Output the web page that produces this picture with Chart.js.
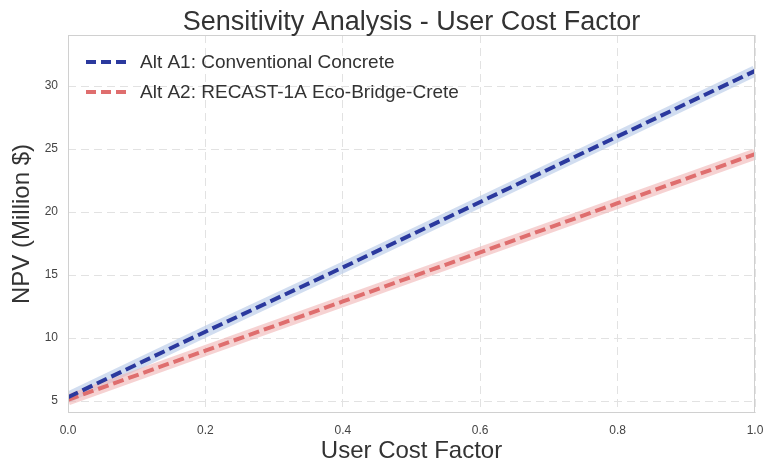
<!DOCTYPE html>
<html>
<head>
<meta charset="utf-8">
<script src="https://cdn.jsdelivr.net/npm/chart.js@4.4.1/dist/chart.umd.min.js"></script>
<style>
  html, body { margin: 0; padding: 0; background: #fff; }
  #wrap { width: 764px; height: 466px; }
</style>
</head>
<body>
<div id="wrap"><canvas id="c" width="764" height="466"></canvas></div>
<script>
// values
const userCostFactor = [0, 0.2, 0.4, 0.6, 0.8, 1.0];
const npvA1 = [5.3, 10.5, 15.6, 20.8, 26.0, 31.2];
const npvA2 = [5.1, 9.0, 12.9, 16.8, 20.7, 24.6];
const labelA1 = 'Alt A1: Conventional Concrete';
const labelA2 = 'Alt A2: RECAST-1A Eco-Bridge-Crete';
const xTicks = [0, 0.2, 0.4, 0.6, 0.8, 1.0];
const yTicks = [5, 10, 15, 20, 25, 30];
const titleText = 'Sensitivity Analysis - User Cost Factor';

const blue = '#2b399e';
const red = '#df6e6e';
const blueBand = 'rgba(185,203,232,0.65)';
const redBand = 'rgba(240,180,180,0.6)';
const gridColor = '#e2e2e2';
const font = "'Liberation Sans', Arial, sans-serif";

const pts = arr => arr.map((v, i) => ({ x: userCostFactor[i], y: v }));

// matplotlib-like frame, centred title and in-axes legend
const frameTitle = {
  id: 'frameTitle',
  afterDraw(chart) {
    const { ctx, chartArea: a } = chart;
    ctx.save();
    ctx.strokeStyle = '#d0d0d0';
    ctx.lineWidth = 1;
    ctx.strokeRect(a.left + 0.5, a.top + 0.5, a.right - a.left - 1, a.bottom - a.top - 1);

    ctx.fillStyle = '#333';
    ctx.font = '27px ' + font;
    ctx.textAlign = 'center';
    ctx.textBaseline = 'alphabetic';
    ctx.fillText(titleText, (a.left + a.right) / 2, 30);

    const items = [[labelA1, blue], [labelA2, red]];
    ctx.font = '19px ' + font;
    ctx.textAlign = 'left';
    ctx.textBaseline = 'middle';
    items.forEach(([text, color], i) => {
      const y = a.top + 27 + i * 30;
      ctx.strokeStyle = color;
      ctx.lineWidth = 4;
      ctx.setLineDash([10, 5]);
      ctx.beginPath();
      ctx.moveTo(a.left + 18, y);
      ctx.lineTo(a.left + 58, y);
      ctx.stroke();
      ctx.setLineDash([]);
      ctx.fillStyle = '#333';
      ctx.fillText(text, a.left + 72, y + 1);
    });
    ctx.restore();
  }
};

new Chart(document.getElementById('c'), {
  type: 'line',
  data: {
    datasets: [
      { label: 'bandA1', data: pts(npvA1), borderColor: blueBand, borderWidth: 11, pointRadius: 0, tension: 0, order: 3 },
      { label: 'bandA2', data: pts(npvA2), borderColor: redBand, borderWidth: 11, pointRadius: 0, tension: 0, order: 2 },
      { label: labelA1, data: pts(npvA1), borderColor: blue, borderWidth: 4, borderDash: [11, 5], pointRadius: 0, tension: 0, order: 0 },
      { label: labelA2, data: pts(npvA2), borderColor: red, borderWidth: 4, borderDash: [11, 5], pointRadius: 0, tension: 0, order: 1 }
    ]
  },
  options: {
    responsive: false,
    animation: false,
    layout: { padding: { top: 35, left: 0, right: 0, bottom: 0 } },
    plugins: {
      title: { display: false },
      tooltip: { enabled: false },
      legend: { display: false }
    },
    scales: {
      x: {
        type: 'linear',
        min: 0,
        max: 1,
        afterBuildTicks: s => { s.ticks = xTicks.map(v => ({ value: v })); },
        afterFit: s => { s.paddingRight = 9; s.height = 53; },
        ticks: { color: '#444', font: { family: font, size: 12 }, padding: 10, maxRotation: 0, callback: v => v.toFixed(1) },
        grid: { color: gridColor, lineWidth: 1, drawTicks: false },
        border: { display: false, dash: [8, 5] },
        title: { display: true, text: 'User Cost Factor', color: '#333', font: { family: font, size: 24 }, padding: { top: 0, bottom: 0 } }
      },
      y: {
        type: 'linear',
        min: 4.05,
        max: 34.05,
        afterBuildTicks: s => { s.ticks = yTicks.map(v => ({ value: v })); },
        afterFit: s => { s.width = 68; },
        ticks: { color: '#444', font: { family: font, size: 12 }, padding: 10 },
        grid: { color: gridColor, lineWidth: 1, drawTicks: false },
        border: { display: false, dash: [8, 5] },
        title: { display: true, text: 'NPV (Million $)', color: '#333', font: { family: font, size: 24 }, padding: { top: 7.5, bottom: 0 } }
      }
    }
  },
  plugins: [frameTitle]
});
</script>
</body>
</html>
